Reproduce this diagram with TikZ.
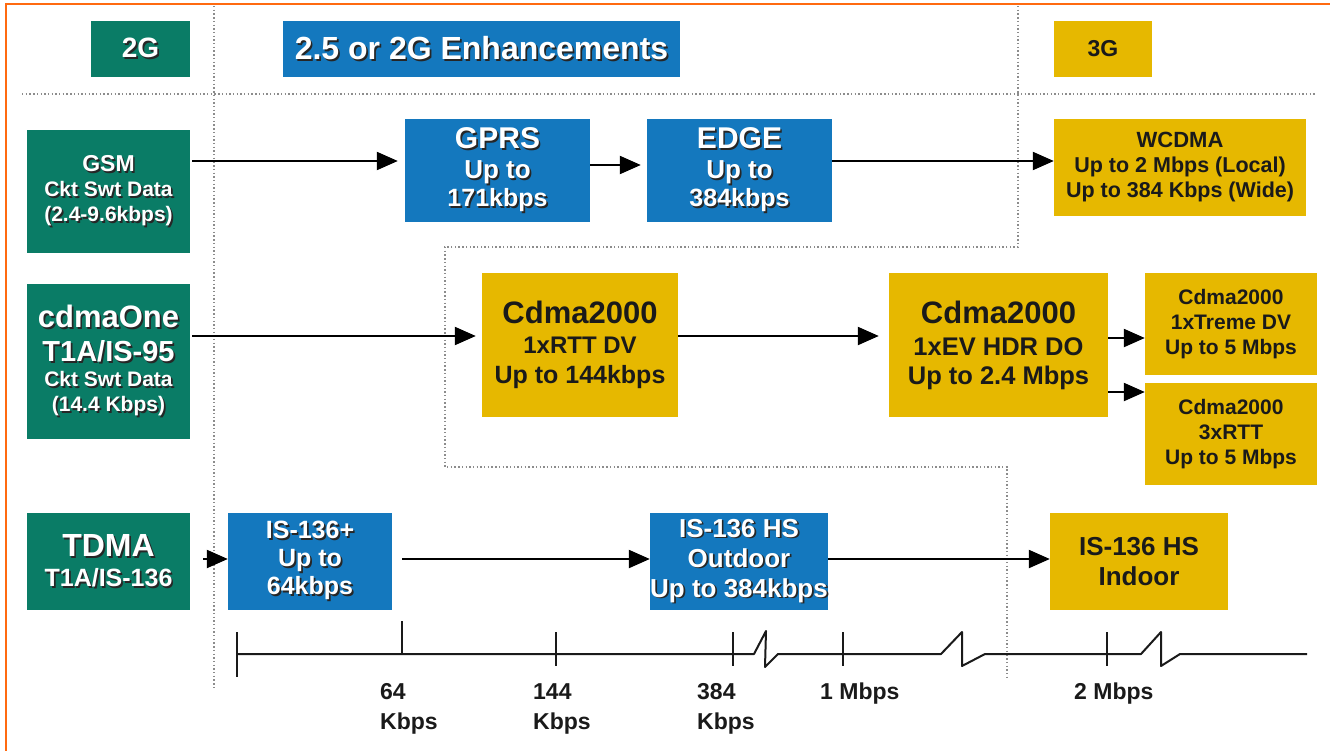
\documentclass[tikz,border=0pt]{standalone}
\usepackage{fontspec}
\setmainfont{Liberation Sans}
\usetikzlibrary{arrows.meta}
\definecolor{gsmgreen}{HTML}{0A7C66}
\definecolor{enhblue}{HTML}{1478BE}
\definecolor{gold}{HTML}{E6B800}
\definecolor{frameorange}{HTML}{FF6A10}
\definecolor{dotgray}{HTML}{8C8C8C}
\definecolor{ink}{HTML}{1A1A1A}
% white text with a dark drop shadow
\newcommand\shd[1]{\leavevmode\rlap{\kern1.7pt\raisebox{-1.7pt}{\color{black!85}#1}}#1}
% change the size of one line only
\newcommand\fz[1]{\fontsize{#1}{\the\baselineskip}\selectfont}
\begin{document}
\begin{tikzpicture}[x=1pt,y=-1pt,
  box/.style={draw=none, inner sep=0pt, align=center},
  gbox/.style={box, fill=gsmgreen, text=white},
  bbox/.style={box, fill=enhblue, text=white},
  ybox/.style={box, fill=gold, text=ink},
  arr/.style={line width=2.2pt, draw=black, -{Triangle[length=21pt,width=18pt]}},
  sep/.style={draw=dotgray, line width=1.4pt, dash pattern=on 1.4pt off 2.3pt},
  axisline/.style={line width=2pt, draw=ink, line join=round},
  lbl/.style={anchor=north west, align=left, inner sep=0pt, text=ink,
    font=\bfseries\fontsize{23}{30}\selectfont},
  frame/.style={draw=frameorange, line width=2.6pt}]
\useasboundingbox (0,0) rectangle (1330,750);
\fill[white] (0,0) rectangle (1330,750);

% frame
\draw[frame] (6,752) -- (6,4) -- (1332,4);

% era separators
\draw[sep] (214,6) -- (214,688);
\draw[sep] (22,94) -- (1316,94);
\draw[sep] (1018,6) -- (1018,247) -- (445,247) -- (445,467) -- (1007,467) -- (1007,678);

% headings
\node[gbox, minimum width=99, minimum height=56] (h2g) at (140.5,49)
  {\bfseries\fz{28}\shd{2G}};
\node[bbox, minimum width=397, minimum height=56] (henh) at (481.5,49)
  {\bfseries\fz{32}\shd{2.5 or 2G Enhancements}};
\node[ybox, minimum width=98, minimum height=56] (h3g) at (1103,49)
  {\bfseries\fz{23}3G};

% 2G systems
\node[gbox, minimum width=163, minimum height=123,
  font=\bfseries\fontsize{21}{25}\selectfont] (gsm) at (108.5,191.5)
  {\fz{23}\shd{GSM}\\\shd{Ckt Swt Data}\\\shd{(2.4-9.6kbps)}};
\node[gbox, minimum width=163, minimum height=155,
  font=\bfseries\fontsize{21}{25}\selectfont] (cdmaone) at (108.5,361.5)
  {\fz{31}\shd{cdmaOne}\\[9pt]\fz{29}\shd{T1A/IS-95}\\\shd{Ckt Swt Data}\\\shd{(14.4 Kbps)}};
\node[gbox, minimum width=163, minimum height=97,
  font=\bfseries\fontsize{25}{30}\selectfont] (tdma) at (108.5,561.5)
  {\fz{32}\shd{TDMA}\\\shd{T1A/IS-136}};

% 2.5G enhancements
\node[bbox, minimum width=185, minimum height=103,
  font=\bfseries\fontsize{25}{28}\selectfont] (gprs) at (497.5,170.5)
  {\fz{30}\shd{GPRS}\\[2pt]\fz{26}\shd{Up to}\\\shd{171kbps}};
\node[bbox, minimum width=185, minimum height=103,
  font=\bfseries\fontsize{25}{28}\selectfont] (edge) at (739.5,170.5)
  {\fz{30}\shd{EDGE}\\[2pt]\fz{26}\shd{Up to}\\\shd{384kbps}};
\node[ybox, minimum width=196, minimum height=144,
  font=\bfseries\fontsize{25}{30}\selectfont] (rtt) at (580,345)
  {\fz{31}Cdma2000\\\fz{24}1xRTT DV\\Up to 144kbps};
\node[ybox, minimum width=219, minimum height=144,
  font=\bfseries\fontsize{25.5}{29}\selectfont] (ev) at (998.5,345)
  {\fz{31}Cdma2000\\[3pt]1xEV HDR DO\\Up to 2.4 Mbps};
\node[bbox, minimum width=164, minimum height=97,
  font=\bfseries\fontsize{25}{28}\selectfont] (is136p) at (310,561.5)
  {\shd{IS-136+}\\\shd{Up to}\\\shd{64kbps}};
\node[bbox, minimum width=178, minimum height=97,
  font=\bfseries\fontsize{26}{30}\selectfont] (hsout) at (739,561.5)
  {\shd{IS-136 HS}\\\shd{Outdoor}\\\shd{Up to 384kbps}};

% 3G systems
\node[ybox, minimum width=252, minimum height=97,
  font=\bfseries\fontsize{21.5}{25}\selectfont] (wcdma) at (1180,167.5)
  {\fz{22}WCDMA\\Up to 2 Mbps (Local)\\Up to 384 Kbps (Wide)};
\node[ybox, minimum width=172, minimum height=102,
  font=\bfseries\fontsize{21}{25}\selectfont] (treme) at (1231,324)
  {Cdma2000\\1xTreme DV\\Up to 5 Mbps};
\node[ybox, minimum width=172, minimum height=102,
  font=\bfseries\fontsize{21}{25}\selectfont] (rtt3) at (1231,434)
  {Cdma2000\\3xRTT\\Up to 5 Mbps};
\node[ybox, minimum width=178, minimum height=97,
  font=\bfseries\fontsize{26}{30}\selectfont] (hsin) at (1139,561.5)
  {IS-136 HS\\Indoor};

% rows used by the migration arrows
\coordinate (rowa) at (0,161);
\coordinate (rowb) at (0,165);
\coordinate (rowc) at (0,336);
\coordinate (rowd) at (0,338);
\coordinate (rowe) at (0,392);
\coordinate (rowf) at (0,559);

\draw[arr, shorten <=2pt, shorten >=7pt] (gsm.east |- rowa) -- (gprs.west |- rowa);
\draw[arr, shorten >=6pt] (gprs.east |- rowb) -- (edge.west |- rowb);
\draw[arr] (edge.east |- rowa) -- (wcdma.west |- rowa);
\draw[arr, shorten <=2pt, shorten >=6pt] (cdmaone.east |- rowc) -- (rtt.west |- rowc);
\draw[arr, shorten >=10pt] (rtt.east |- rowc) -- (ev.west |- rowc);
\draw[arr] (ev.east |- rowd) -- (treme.west |- rowd);
\draw[arr] (ev.east |- rowe) -- (rtt3.west |- rowe);
\draw[arr, shorten <=13pt] (tdma.east |- rowf) -- (is136p.west |- rowf);
\draw[arr, shorten <=10pt] (is136p.east |- rowf) -- (hsout.west |- rowf);
\draw[arr] (hsout.east |- rowf) -- (hsin.west |- rowf);

% data-rate axis with scale breaks
\draw[axisline] (237,654) -- (754,654) -- (766,631) -- (765,667) -- (778,654)
  -- (941,654) -- (962,632) -- (962,666) -- (985,654)
  -- (1141,654) -- (1161,632) -- (1161,666) -- (1180,654) -- (1307,654);
\foreach \tx/\ta/\tb in {237/632/677, 402/621/654, 556/632/666,
                         733/632/666, 843/632/666, 1107/632/666}
  \draw[axisline] (\tx,\ta) -- (\tx,\tb);

\node[lbl] (l64) at (380,683) {64\\Kbps};
\node[lbl] (l144) at (533,683) {144\\Kbps};
\node[lbl] (l384) at (697,683) {384\\Kbps};
\node[lbl] (l1m) at (820,683) {1 Mbps};
\node[lbl] (l2m) at (1074,683) {2 Mbps};
\end{tikzpicture}
\end{document}
